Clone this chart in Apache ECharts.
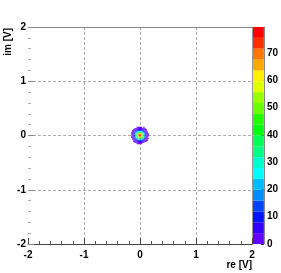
<!DOCTYPE html>
<html><head><meta charset="utf-8">
<script src="https://cdn.jsdelivr.net/npm/echarts@6/dist/echarts.min.js"></script>
<style>html,body{margin:0;padding:0;background:#fff}#c{width:281px;height:273px}</style>
</head><body><div id="c"></div>
<script>
// ---- data ----
const xRange = [-2, 2];
const yRange = [-2, 2];
const axisInterval = 1;
const binWidth = 0.02;
const xCenters = [-0.15, -0.13, -0.11, -0.09, -0.07, -0.05, -0.03, -0.01, 0.01, 0.03, 0.05, 0.07, 0.09, 0.11, 0.13, 0.15];
const yCenters = [0.15, 0.13, 0.11, 0.09, 0.07, 0.05, 0.03, 0.01, -0.01, -0.03, -0.05, -0.07, -0.09, -0.11, -0.13, -0.15];
const counts = [
  [0, 0, 0, 0, 0, 1, 1, 1, 2, 1, 0, 1, 0, 0, 0, 0],
  [0, 0, 0, 1, 1, 2, 3, 2, 3, 3, 2, 1, 1, 0, 0, 0],
  [0, 0, 1, 2, 3, 5, 6, 8, 7, 6, 4, 3, 2, 1, 0, 0],
  [0, 1, 2, 4, 6, 9, 14, 15, 16, 12, 10, 5, 3, 2, 0, 0],
  [0, 1, 3, 6, 12, 17, 26, 30, 28, 24, 19, 11, 6, 2, 1, 0],
  [1, 2, 4, 9, 18, 31, 41, 46, 49, 39, 28, 17, 10, 5, 2, 0],
  [1, 3, 6, 13, 24, 42, 55, 67, 63, 57, 38, 26, 12, 6, 2, 1],
  [0, 3, 7, 16, 28, 48, 64, 79, 74, 66, 45, 30, 14, 7, 3, 1],
  [1, 3, 8, 15, 30, 46, 66, 73, 77, 63, 48, 28, 15, 6, 3, 1],
  [1, 2, 6, 12, 26, 39, 57, 64, 66, 54, 41, 24, 13, 6, 3, 0],
  [0, 2, 5, 10, 17, 28, 41, 48, 46, 40, 30, 18, 9, 4, 2, 1],
  [0, 1, 3, 6, 11, 19, 24, 29, 30, 26, 17, 12, 5, 3, 1, 0],
  [0, 0, 2, 3, 6, 10, 13, 16, 14, 13, 9, 6, 3, 2, 1, 0],
  [0, 0, 1, 2, 3, 4, 6, 7, 6, 5, 4, 3, 1, 1, 0, 0],
  [0, 0, 0, 1, 1, 2, 2, 3, 3, 3, 2, 1, 0, 0, 0, 0],
  [0, 0, 0, 0, 0, 1, 1, 1, 1, 1, 0, 0, 0, 0, 0, 0]
];
const zMin = 0;
const zMax = 79.5;
const nContours = 20;
const paletteInterval = 10;
const xTitle = 're [V]';
const yTitle = 'im [V]';

// ---- palette (ROOT pretty palette hues, HLS with S=1, L=0.5) ----
const hues = [263.2, 252, 235.2, 224, 207.2, 196, 179.2, 168, 151.2, 140,
              123.2, 112, 95.2, 84, 67.2, 56, 39.2, 28, 11.2, 0];
function hueToHex(h) {
  let r, g, b;
  if (h < 60) { r = 255; g = h / 60 * 255; b = 0; }
  else if (h < 120) { r = (120 - h) / 60 * 255; g = 255; b = 0; }
  else if (h < 180) { r = 0; g = 255; b = (h - 120) / 60 * 255; }
  else if (h < 240) { r = 0; g = (240 - h) / 60 * 255; b = 255; }
  else { r = (h - 240) / 60 * 255; g = 0; b = 255; }
  const f = v => Math.round(v).toString(16).padStart(2, '0');
  return '#' + f(r) + f(g) + f(b);
}
const palette = hues.map(hueToHex);

// contour bands
const step = (zMax - zMin) / nContours;
const bands = [];
for (let k = 0; k < nContours; k++) bands.push([zMin + k * step, zMin + (k + 1) * step, k]);
const pieces = bands.map(b => ({ gt: b[0], lte: b[1], color: palette[b[2]] }));

// cells
const cells = [];
for (let i = 0; i < yCenters.length; i++) {
  for (let j = 0; j < xCenters.length; j++) {
    if (counts[i][j] > 0) cells.push([xCenters[j], yCenters[i], counts[i][j]]);
  }
}

const FONT = 'Liberation Sans';
const labelStyle = { color: '#000', fontSize: 10, fontWeight: 'bold', fontFamily: FONT };

const chart = echarts.init(document.getElementById('c'), null, { renderer: 'canvas' });
chart.setOption({
  animation: false,
  backgroundColor: '#fff',
  grid: [
    { left: 28, top: 27, width: 224, height: 217 },
    { left: 253, top: 27, width: 13, height: 217 }
  ],
  xAxis: [
    { type: 'value', gridIndex: 0, min: xRange[0], max: xRange[1], interval: axisInterval, position: 'bottom',
      axisLine: { show: true, onZero: false, lineStyle: { color: '#444', width: 1 } },
      axisTick: { show: true, inside: true, length: 6, lineStyle: { color: '#444' } },
      minorTick: { show: true, splitNumber: 5, length: 3, lineStyle: { color: '#555' } },
      axisLabel: Object.assign({ margin: 6 }, labelStyle),
      splitLine: { show: true, showMinLine: false, showMaxLine: false, lineStyle: { color: '#aaa', type: [3, 2], width: 1 } }
    },
    { type: 'value', gridIndex: 0, min: xRange[0], max: xRange[1], position: 'top',
      axisLine: { show: true, onZero: false, lineStyle: { color: '#888' } },
      axisTick: { show: false }, axisLabel: { show: false }, splitLine: { show: false } },
    { type: 'value', gridIndex: 1, min: 0, max: 1, show: false }
  ],
  yAxis: [
    { type: 'value', gridIndex: 0, min: yRange[0], max: yRange[1], interval: axisInterval, position: 'left',
      axisLine: { show: false, onZero: false },
      axisTick: { show: true, inside: true, length: 6, lineStyle: { color: '#888' } },
      minorTick: { show: true, splitNumber: 5, length: 3, lineStyle: { color: '#aaa' } },
      axisLabel: Object.assign({ margin: 2 }, labelStyle),
      splitLine: { show: true, showMinLine: false, showMaxLine: false, lineStyle: { color: '#aaa', type: [3, 2], width: 1 } }
    },
    { type: 'value', gridIndex: 0, min: yRange[0], max: yRange[1], position: 'right',
      axisLine: { show: true, onZero: false, lineStyle: { color: '#999' } },
      axisTick: { show: false }, axisLabel: { show: false }, splitLine: { show: false } },
    { type: 'value', gridIndex: 1, min: zMin, max: zMax, interval: paletteInterval, position: 'right',
      axisLine: { show: true, onZero: false, lineStyle: { color: '#888' } },
      axisTick: { show: true, inside: true, length: 3, lineStyle: { color: '#333' } },
      axisLabel: Object.assign({ margin: 3, showMaxLabel: false }, labelStyle),
      splitLine: { show: false }
    }
  ],
  visualMap: {
    type: 'piecewise', show: false, seriesIndex: 0, dimension: 2, pieces: pieces
  },
  series: [
    {
      type: 'custom', xAxisIndex: 0, yAxisIndex: 0, data: cells,
      renderItem: function (params, api) {
        const x = api.value(0), y = api.value(1);
        const p0 = api.coord([x - binWidth / 2, y + binWidth / 2]);
        const p1 = api.coord([x + binWidth / 2, y - binWidth / 2]);
        return { type: 'rect', shape: { x: p0[0], y: p0[1], width: p1[0] - p0[0], height: p1[1] - p0[1] },
                 style: { fill: api.visual('color') } };
      }
    },
    {
      type: 'custom', xAxisIndex: 2, yAxisIndex: 2, data: bands,
      renderItem: function (params, api) {
        const lo = api.value(0), hi = api.value(1), k = api.value(2);
        const p0 = api.coord([0, hi]);
        const p1 = api.coord([1, lo]);
        return { type: 'rect', shape: { x: p0[0], y: p0[1], width: p1[0] - p0[0], height: p1[1] - p0[1] },
                 style: { fill: palette[k] } };
      }
    }
  ],
  graphic: [
    { type: 'text', x: 252, y: 265, style: { text: xTitle, align: 'right', verticalAlign: 'middle',
      font: 'bold 10px "Liberation Sans"', fill: '#000' } },
    { type: 'text', x: 8, y: 28, rotation: Math.PI / 2, style: { text: yTitle, align: 'right', verticalAlign: 'middle',
      font: 'bold 10px "Liberation Sans"', fill: '#000' } }
  ]
});
</script>
</body></html>
